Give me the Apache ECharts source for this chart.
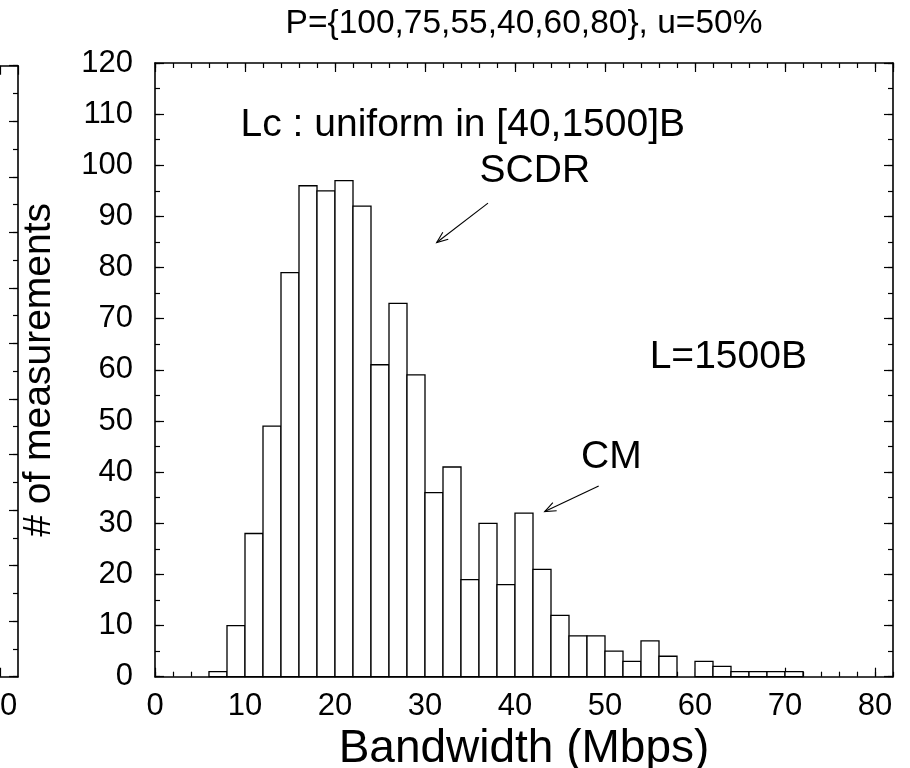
<!DOCTYPE html>
<html>
<head>
<meta charset="utf-8">
<script src="https://cdn.jsdelivr.net/npm/echarts@6/dist/echarts.min.js"></script>
<style>
  html, body { margin: 0; padding: 0; background: #fff; }
  #chart { width: 910px; height: 768px; }
</style>
</head>
<body>
<div id="chart"></div>
<script>
// Histogram of bandwidth estimates: each bin is [start, start + binWidth) Mbps
const binWidth = 2;
const binStarts = [6, 8, 10, 12, 14, 16, 18, 20, 22, 24, 26, 28, 30, 32, 34, 36, 38,
                   40, 42, 44, 46, 48, 50, 52, 54, 56, 58, 60, 62, 64, 66, 68, 70];
const counts    = [1, 10, 28, 49, 79, 96, 95, 97, 92, 61, 73, 59, 36, 41, 19, 30, 18,
                   32, 21, 12, 8, 8, 5, 3, 7, 4, 0, 3, 2, 1, 1, 1, 1];

const titleText = 'P={100,75,55,40,60,80}, u=50%';
const xName = 'Bandwidth (Mbps)';
const yName = '# of measurements';

// Text notes placed in data units (Mbps, count)
const notes = [
  { text: 'Lc : uniform in [40,1500]B', at: [34.2, 107.8] },
  { text: 'SCDR', at: [42.2, 98.8] },
  { text: 'L=1500B', at: [63.7, 62.5] },
  { text: 'CM', at: [50.7, 43.0] }
];
// Pointer arrows: from tail to head, in data units
const arrows = [
  { from: [37.0, 92.6], to: [31.3, 84.9] },
  { from: [49.3, 37.3], to: [43.3, 32.3] }
];

const FONT = "'Liberation Sans', Arial, Helvetica, sans-serif";
const INK = '#000';

const histData = binStarts.map((s, i) => [s, s + binWidth, counts[i]]);

function tickAxis(opts) {
  // One axis of the frame: either the major (labelled) or the minor tick set
  const major = opts.major;
  return Object.assign({
    type: 'value',
    gridIndex: opts.grid,
    position: opts.position,
    min: opts.min,
    max: opts.max,
    interval: opts.interval,
    splitLine: { show: false },
    axisLine: { show: major, onZero: false, lineStyle: { color: INK, width: 1.6 } },
    axisTick: { show: true, inside: true, length: major ? 9 : 5,
                lineStyle: { color: INK, width: 1.2 } },
    axisLabel: { show: false },
    minorTick: { show: false }
  }, opts.extra || {});
}

const labelStyle = { show: true, color: INK, fontFamily: FONT, fontSize: 31 };

const xAxes = [
  tickAxis({ grid: 0, position: 'bottom', min: 0, max: 82, interval: 10, major: true, extra: {
    axisLabel: Object.assign({}, labelStyle, { margin: 14, showMaxLabel: false }),
    name: xName, nameLocation: 'middle', nameGap: 44,
    nameTextStyle: { color: INK, fontFamily: FONT, fontSize: 46 }
  } }),
  tickAxis({ grid: 0, position: 'bottom', min: 0, max: 82, interval: 2, major: false }),
  tickAxis({ grid: 0, position: 'top', min: 0, max: 82, interval: 10, major: true }),
  tickAxis({ grid: 0, position: 'top', min: 0, max: 82, interval: 2, major: false }),
  // right edge of the neighbouring panel
  tickAxis({ grid: 1, position: 'bottom', min: 80, max: 82, interval: 2, major: true, extra: {
    axisLabel: Object.assign({}, labelStyle, { margin: 14, showMaxLabel: false,
      formatter: v => (v % 10 === 0 ? String(v) : '') })
  } }),
  tickAxis({ grid: 1, position: 'top', min: 80, max: 82, interval: 2, major: true })
];

const yAxes = [
  tickAxis({ grid: 0, position: 'left', min: 0, max: 120, interval: 10, major: true, extra: {
    axisLabel: Object.assign({}, labelStyle, { margin: 22 }),
    name: yName, nameLocation: 'middle', nameGap: 96,
    nameTextStyle: { color: INK, fontFamily: FONT, fontSize: 39 }
  } }),
  tickAxis({ grid: 0, position: 'left', min: 0, max: 120, interval: 5, major: false }),
  tickAxis({ grid: 0, position: 'right', min: 0, max: 120, interval: 10, major: true }),
  tickAxis({ grid: 0, position: 'right', min: 0, max: 120, interval: 5, major: false }),
  tickAxis({ grid: 1, position: 'right', min: 0, max: 110, interval: 10, major: true }),
  tickAxis({ grid: 1, position: 'right', min: 0, max: 110, interval: 5, major: false })
];

function renderBin(params, api) {
  const lo = api.value(0), hi = api.value(1), n = api.value(2);
  if (!n) return null;
  const p0 = api.coord([lo, 0]);
  const p1 = api.coord([hi, n]);
  return {
    type: 'rect',
    shape: { x: p0[0], y: p1[1], width: p1[0] - p0[0], height: p0[1] - p1[1] },
    style: { fill: '#fff', stroke: INK, lineWidth: 1.3 }
  };
}

const chart = echarts.init(document.getElementById('chart'), null, { renderer: 'canvas' });

chart.setOption({
  animation: false,
  backgroundColor: '#fff',
  grid: [
    { left: 155, top: 63, right: 17, bottom: 91.3, containLabel: false, outerBoundsMode: 'none' },
    { left: 0, top: 65.7, right: 892, bottom: 91.3, containLabel: false, outerBoundsMode: 'none' }
  ],
  xAxis: xAxes,
  yAxis: yAxes,
  series: [{
    type: 'custom',
    name: 'bins',
    xAxisIndex: 0,
    yAxisIndex: 0,
    renderItem: renderBin,
    encode: { x: [0, 1], y: 2 },
    data: histData,
    z: 1
  }]
});

// Annotation layer: title, notes and pointer arrows
const toPx = p => chart.convertToPixel({ xAxisIndex: 0, yAxisIndex: 0 }, p);
const elements = [{
  type: 'text',
  x: 524, y: 24,
  style: { text: titleText, fill: INK, font: '33.5px ' + FONT, align: 'center', verticalAlign: 'middle' }
}];
notes.forEach(n => {
  const p = toPx(n.at);
  elements.push({
    type: 'text', x: p[0], y: p[1],
    style: { text: n.text, fill: INK, font: '39px ' + FONT, align: 'center', verticalAlign: 'middle' }
  });
});
arrows.forEach(a => {
  const t = toPx(a.from), h = toPx(a.to);
  const ang = Math.atan2(t[1] - h[1], t[0] - h[0]);
  const len = 12, spread = 0.38;
  const w1 = [h[0] + len * Math.cos(ang + spread), h[1] + len * Math.sin(ang + spread)];
  const w2 = [h[0] + len * Math.cos(ang - spread), h[1] + len * Math.sin(ang - spread)];
  elements.push({ type: 'polyline', shape: { points: [t, h] },
    style: { stroke: INK, lineWidth: 1.1, fill: null } });
  elements.push({ type: 'polyline', shape: { points: [w1, h, w2] },
    style: { stroke: INK, lineWidth: 1.1, fill: null } });
});
chart.setOption({ graphic: elements });
</script>
</body>
</html>
